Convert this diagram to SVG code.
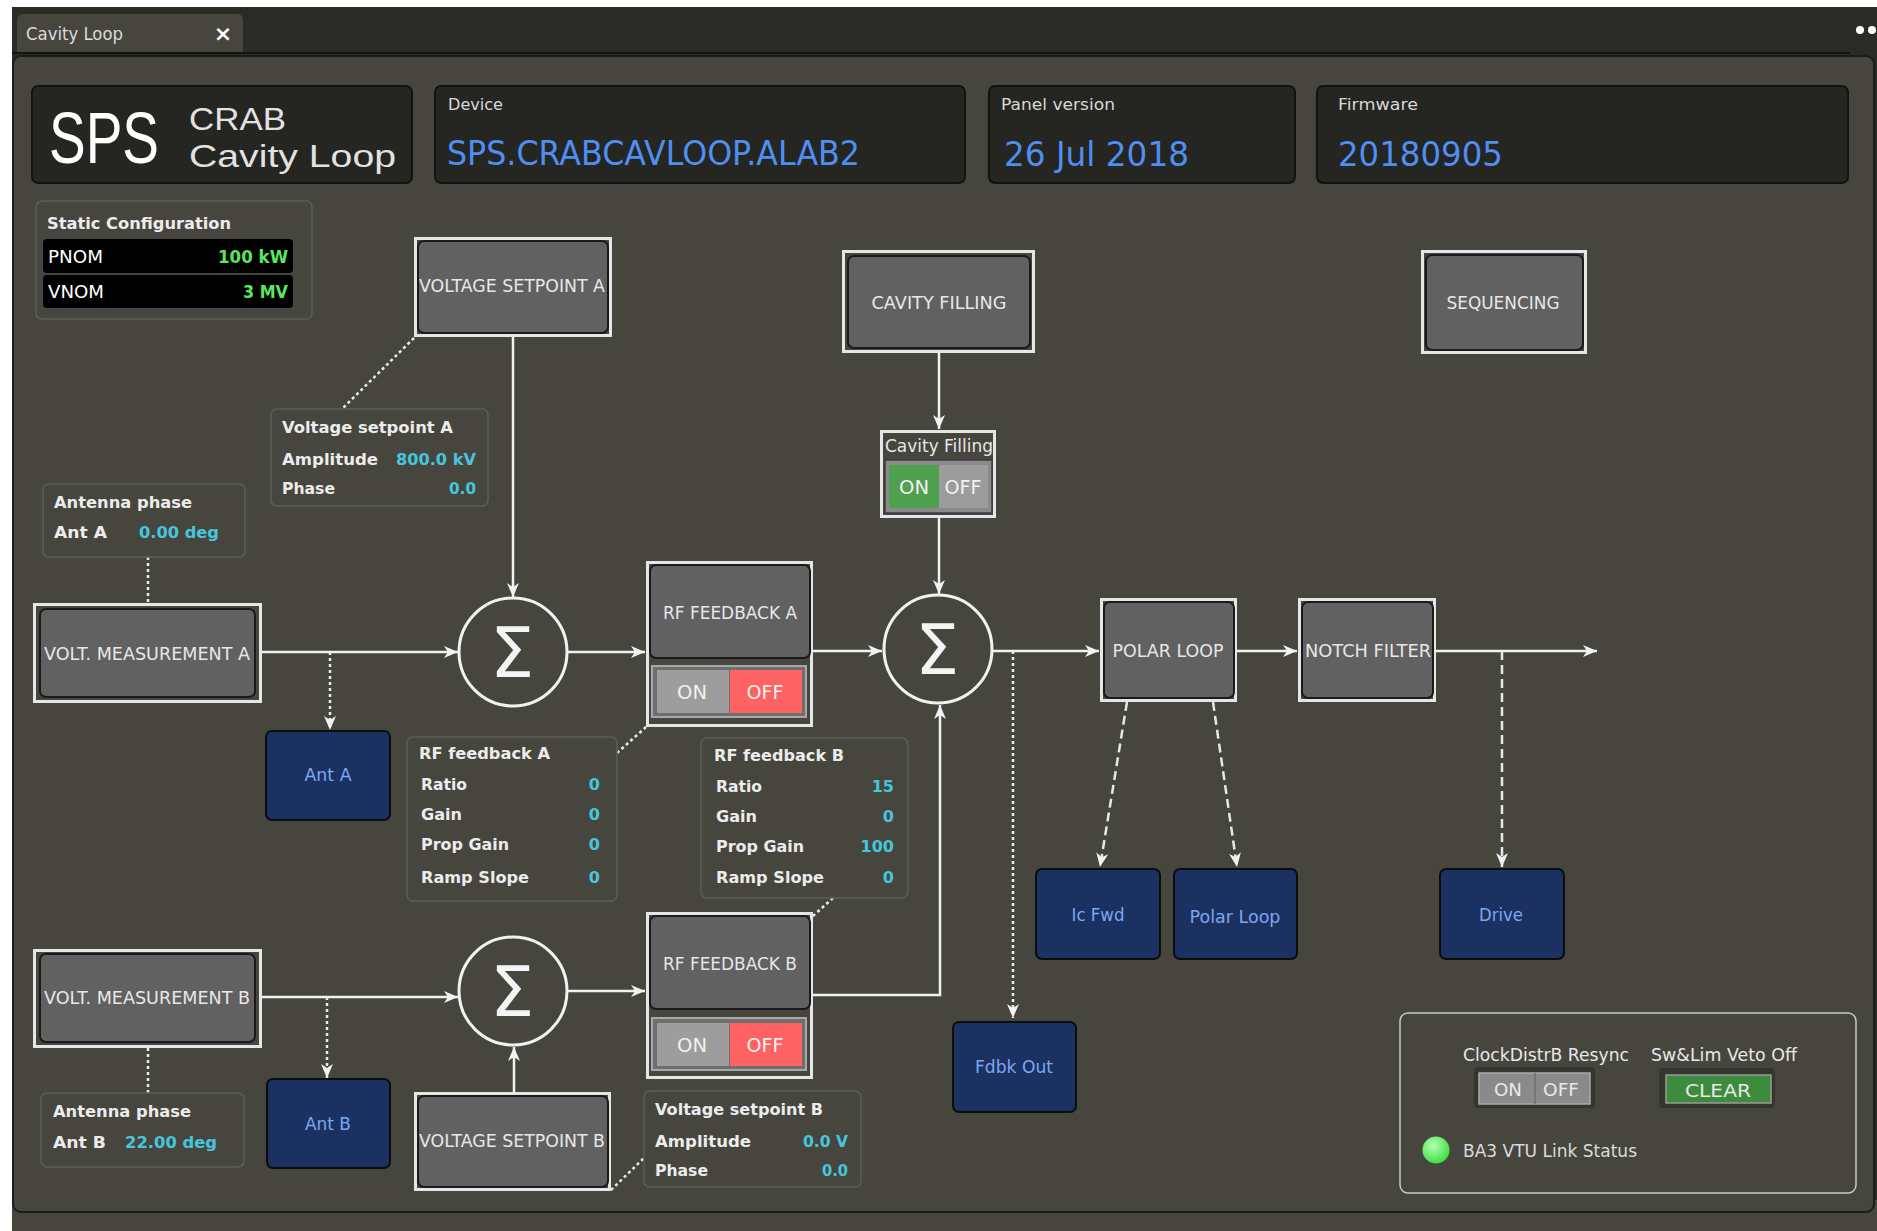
<svg xmlns="http://www.w3.org/2000/svg" width="1877" height="1231" viewBox="0 0 1877 1231">
<defs>
<style>
.t{font-family:'DejaVu Sans','Liberation Sans',sans-serif}
.hdr{fill:#252521;stroke:#121210;stroke-width:2}
.hl{font-family:'DejaVu Sans',sans-serif;font-size:15px;fill:#d8d8d8}
.hv{font-family:'DejaVu Sans',sans-serif;font-size:33px;fill:#4f8ef2}
.no{fill:none;stroke:#e6e6e6;stroke-width:3}
.ni{fill:#616161;stroke:#1a1a1a;stroke-width:2}
.nl{font-family:'DejaVu Sans',sans-serif;font-size:17px;fill:#e8e8e8;text-anchor:middle}
.bl{fill:#1a3162;stroke:#0c0c0c;stroke-width:2}
.blt{font-family:'DejaVu Sans',sans-serif;font-size:17px;fill:#7ea7ef;text-anchor:middle}
.ib{fill:none;stroke:#5e5e58;stroke-width:1.5}
.it{font-family:'DejaVu Sans',sans-serif;font-size:16px;font-weight:bold;fill:#ececec}
.iv{font-family:'DejaVu Sans',sans-serif;font-size:16px;font-weight:bold;fill:#46c6de;text-anchor:end}
.sum{fill:none;stroke:#f2f2f2;stroke-width:3}
.sg{font-family:'DejaVu Sans',sans-serif;font-size:70px;fill:#f4f4f4;text-anchor:middle}
.tg{font-family:'DejaVu Sans',sans-serif;font-size:20px;fill:#f2f2f2;text-anchor:middle}
.c{stroke:#f2f2f2;stroke-width:2.5;fill:none}
.d{stroke:#ececec;stroke-width:2.5;fill:none;stroke-dasharray:3 3}
.dl{stroke:#e8e8e8;stroke-width:2.5;fill:none;stroke-dasharray:9 5}
</style>
<marker id="arr" markerUnits="userSpaceOnUse" markerWidth="16" markerHeight="14" refX="15" refY="7" orient="auto">
<path d="M1,1 L15,7 L1,13 L5,7 Z" fill="#f2f2f2"/>
</marker>
<radialGradient id="led" cx="0.4" cy="0.35" r="0.65">
<stop offset="0" stop-color="#b4ffb4"/><stop offset="1" stop-color="#3fe03f"/>
</radialGradient>
</defs>

<!-- window background -->
<rect x="0" y="0" width="1877" height="1231" fill="#ffffff"/>
<rect x="12" y="7" width="1865" height="1224" fill="#2a2a26"/>
<path d="M17,53 L17,20 Q17,14 23,14 L237,14 Q243,14 243,20 L243,53 Z" fill="#46463f"/>
<text x="26" y="40" class="t" font-size="17" fill="#dcdcdc" textLength="97" lengthAdjust="spacingAndGlyphs">Cavity Loop</text>
<text x="223" y="41" class="t" font-size="22" font-weight="bold" fill="#ffffff" text-anchor="middle">×</text>
<line x1="12" y1="53" x2="1850" y2="53" stroke="#141412" stroke-width="2"/>
<circle cx="1860" cy="30" r="4" fill="#ffffff"/>
<circle cx="1872" cy="30" r="4" fill="#ffffff"/>
<rect x="12" y="1200" width="1865" height="31" fill="#46463f"/>
<rect x="13" y="56" width="1861" height="1156" rx="8" fill="#46463f" stroke="#1c1c1a" stroke-width="2"/>

<!-- header -->
<g id="header-sps">
<rect x="32" y="86" width="380" height="97" rx="6" class="hdr"/>
<text x="49" y="163" font-family="'Liberation Sans',sans-serif" font-size="72" fill="#ffffff" textLength="110" lengthAdjust="spacingAndGlyphs">SPS</text>
<text x="189" y="130" font-family="'Liberation Sans',sans-serif" font-size="32" fill="#e2e2e2" textLength="97" lengthAdjust="spacingAndGlyphs">CRAB</text>
<text x="189" y="167" font-family="'Liberation Sans',sans-serif" font-size="32" fill="#e2e2e2" textLength="207" lengthAdjust="spacingAndGlyphs">Cavity Loop</text>
</g>
<g id="header-device">
<rect x="435" y="86" width="530" height="97" rx="6" class="hdr"/>
<text x="448" y="110" class="hl" textLength="55" lengthAdjust="spacingAndGlyphs">Device</text>
<text x="447" y="165" class="hv" textLength="413" lengthAdjust="spacingAndGlyphs">SPS.CRABCAVLOOP.ALAB2</text>
</g>
<g id="header-version">
<rect x="989" y="86" width="306" height="97" rx="6" class="hdr"/>
<text x="1001" y="110" class="hl" textLength="114" lengthAdjust="spacingAndGlyphs">Panel version</text>
<text x="1004" y="166" class="hv" textLength="185" lengthAdjust="spacingAndGlyphs">26 Jul 2018</text>
</g>
<g id="header-firmware">
<rect x="1317" y="86" width="531" height="97" rx="6" class="hdr"/>
<text x="1338" y="110" class="hl" textLength="80" lengthAdjust="spacingAndGlyphs">Firmware</text>
<text x="1338" y="166" class="hv" textLength="165" lengthAdjust="spacingAndGlyphs">20180905</text>
</g>

<!-- static configuration -->
<g id="static-config">
<rect x="36" y="201" width="276" height="118" rx="6" class="ib"/>
<text x="47" y="229" class="it" font-size="17" textLength="184" lengthAdjust="spacingAndGlyphs">Static Configuration</text>
<rect x="43" y="239" width="250" height="34" rx="4" fill="#000000"/>
<text x="48" y="263" class="t" font-size="17" fill="#ffffff" textLength="55" lengthAdjust="spacingAndGlyphs">PNOM</text>
<text x="288" y="263" class="t" font-size="17" font-weight="bold" fill="#5ce65c" text-anchor="end" textLength="70" lengthAdjust="spacingAndGlyphs">100 kW</text>
<rect x="43" y="275" width="250" height="33" rx="4" fill="#000000"/>
<text x="48" y="298" class="t" font-size="17" fill="#ffffff" textLength="56" lengthAdjust="spacingAndGlyphs">VNOM</text>
<text x="288" y="298" class="t" font-size="17" font-weight="bold" fill="#5ce65c" text-anchor="end" textLength="45" lengthAdjust="spacingAndGlyphs">3 MV</text>
</g>

<!-- connectors -->
<g id="connectors">
<line x1="513" y1="337" x2="513" y2="597" class="c" marker-end="url(#arr)"/>
<line x1="262" y1="652" x2="458" y2="652" class="c" marker-end="url(#arr)"/>
<line x1="330" y1="652" x2="330" y2="730" class="d" marker-end="url(#arr)"/>
<line x1="567" y1="652" x2="645" y2="652" class="c" marker-end="url(#arr)"/>
<line x1="813" y1="651" x2="882" y2="651" class="c" marker-end="url(#arr)"/>
<line x1="939" y1="353" x2="939" y2="429" class="c" marker-end="url(#arr)"/>
<line x1="939" y1="518" x2="939" y2="594" class="c" marker-end="url(#arr)"/>
<line x1="993" y1="651" x2="1099" y2="651" class="c" marker-end="url(#arr)"/>
<line x1="1013" y1="651" x2="1013" y2="1018" class="d" marker-end="url(#arr)"/>
<line x1="1237" y1="651" x2="1297" y2="651" class="c" marker-end="url(#arr)"/>
<line x1="1436" y1="651" x2="1597" y2="651" class="c" marker-end="url(#arr)"/>
<line x1="1502" y1="651" x2="1502" y2="867" class="dl" marker-end="url(#arr)"/>
<line x1="1127" y1="702" x2="1100" y2="867" class="dl" marker-end="url(#arr)"/>
<line x1="1213" y1="702" x2="1237" y2="867" class="dl" marker-end="url(#arr)"/>
<line x1="262" y1="997" x2="458" y2="997" class="c" marker-end="url(#arr)"/>
<line x1="327" y1="997" x2="327" y2="1078" class="d" marker-end="url(#arr)"/>
<line x1="567" y1="991" x2="645" y2="991" class="c" marker-end="url(#arr)"/>
<line x1="514" y1="1092" x2="514" y2="1047" class="c" marker-end="url(#arr)"/>
<polyline points="813,995 940,995 940,705" class="c" marker-end="url(#arr)"/>
<line x1="148" y1="557" x2="148" y2="603" class="d"/>
<line x1="148" y1="1048" x2="148" y2="1093" class="d"/>
<line x1="414" y1="338" x2="343" y2="408" class="d"/>
<line x1="617" y1="753" x2="646" y2="727" class="d"/>
<line x1="833" y1="898" x2="813" y2="916" class="d"/>
<line x1="611" y1="1190" x2="644" y2="1158" class="d"/>
</g>

<!-- nodes -->
<g id="node-vsa">
<rect x="415.5" y="238.5" width="195" height="97" class="no"/>
<rect x="418" y="241" width="190" height="92" rx="6" class="ni"/>
<text x="512" y="292" class="nl" font-size="16.5" textLength="186" lengthAdjust="spacingAndGlyphs">VOLTAGE SETPOINT A</text>
</g>
<g id="info-vsa">
<rect x="271" y="409" width="217" height="97" rx="6" class="ib"/>
<text x="282" y="433" class="it" textLength="171" lengthAdjust="spacingAndGlyphs">Voltage setpoint A</text>
<text x="282" y="465" class="it" textLength="96" lengthAdjust="spacingAndGlyphs">Amplitude</text>
<text x="476" y="465" class="iv" textLength="80" lengthAdjust="spacingAndGlyphs">800.0 kV</text>
<text x="282" y="494" class="it" textLength="53" lengthAdjust="spacingAndGlyphs">Phase</text>
<text x="476" y="494" class="iv" textLength="27" lengthAdjust="spacingAndGlyphs">0.0</text>
</g>
<g id="info-antA">
<rect x="43" y="484" width="202" height="73" rx="6" class="ib"/>
<text x="54" y="508" class="it" textLength="138" lengthAdjust="spacingAndGlyphs">Antenna phase</text>
<text x="54" y="538" class="it" textLength="53" lengthAdjust="spacingAndGlyphs">Ant A</text>
<text x="139" y="538" class="iv" style="text-anchor:start" textLength="80" lengthAdjust="spacingAndGlyphs">0.00 deg</text>
</g>
<g id="node-vma">
<rect x="34.5" y="604.5" width="226" height="97" class="no"/>
<rect x="40" y="609" width="215" height="88" rx="6" class="ni"/>
<text x="147" y="660" class="nl" textLength="206" lengthAdjust="spacingAndGlyphs">VOLT. MEASUREMENT A</text>
</g>
<g id="sum1">
<circle cx="513" cy="652" r="54" class="sum"/>
<text x="512" y="677" class="sg">Σ</text>
</g>
<g id="antA">
<rect x="266" y="731" width="124" height="89" rx="6" class="bl"/>
<text x="328" y="781" class="blt" textLength="47" lengthAdjust="spacingAndGlyphs">Ant A</text>
</g>
<g id="info-rfa">
<rect x="407" y="737" width="210" height="164" rx="6" class="ib"/>
<text x="419" y="759" class="it" textLength="131" lengthAdjust="spacingAndGlyphs">RF feedback A</text>
<text x="421" y="790" class="it" textLength="46" lengthAdjust="spacingAndGlyphs">Ratio</text>
<text x="421" y="820" class="it" textLength="41" lengthAdjust="spacingAndGlyphs">Gain</text>
<text x="421" y="850" class="it" textLength="88" lengthAdjust="spacingAndGlyphs">Prop Gain</text>
<text x="421" y="883" class="it" textLength="108" lengthAdjust="spacingAndGlyphs">Ramp Slope</text>
<text x="600" y="790" class="iv">0</text>
<text x="600" y="820" class="iv">0</text>
<text x="600" y="850" class="iv">0</text>
<text x="600" y="883" class="iv">0</text>
</g>
<g id="node-rfa">
<rect x="647.5" y="562.5" width="164" height="163" class="no"/>
<rect x="650" y="565" width="160" height="93" rx="6" class="ni"/>
<text x="730" y="619" class="nl" textLength="134" lengthAdjust="spacingAndGlyphs">RF FEEDBACK A</text>
<rect x="652" y="666" width="154" height="51" fill="#6e6e6e" stroke="#a8a8a8" stroke-width="2"/>
<rect x="657" y="670" width="72" height="43" fill="#9d9d9d"/>
<rect x="730" y="670" width="72" height="43" fill="#ff6262"/>
<text x="692" y="699" class="tg" textLength="30" lengthAdjust="spacingAndGlyphs">ON</text>
<text x="765" y="699" class="tg" fill="#ffffff" textLength="37" lengthAdjust="spacingAndGlyphs">OFF</text>
</g>
<g id="info-rfb">
<rect x="701" y="738" width="207" height="160" rx="6" class="ib"/>
<text x="714" y="761" class="it" textLength="130" lengthAdjust="spacingAndGlyphs">RF feedback B</text>
<text x="716" y="792" class="it" textLength="46" lengthAdjust="spacingAndGlyphs">Ratio</text>
<text x="716" y="822" class="it" textLength="41" lengthAdjust="spacingAndGlyphs">Gain</text>
<text x="716" y="852" class="it" textLength="88" lengthAdjust="spacingAndGlyphs">Prop Gain</text>
<text x="716" y="883" class="it" textLength="108" lengthAdjust="spacingAndGlyphs">Ramp Slope</text>
<text x="894" y="792" class="iv">15</text>
<text x="894" y="822" class="iv">0</text>
<text x="894" y="852" class="iv">100</text>
<text x="894" y="883" class="iv">0</text>
</g>
<g id="node-rfb">
<rect x="647.5" y="913.5" width="164" height="164" class="no"/>
<rect x="650" y="916" width="160" height="93" rx="6" class="ni"/>
<text x="730" y="970" class="nl" textLength="134" lengthAdjust="spacingAndGlyphs">RF FEEDBACK B</text>
<rect x="652" y="1018" width="154" height="52" fill="#6e6e6e" stroke="#a8a8a8" stroke-width="2"/>
<rect x="657" y="1023" width="72" height="43" fill="#9d9d9d"/>
<rect x="730" y="1023" width="72" height="43" fill="#ff6262"/>
<text x="692" y="1052" class="tg" textLength="30" lengthAdjust="spacingAndGlyphs">ON</text>
<text x="765" y="1052" class="tg" fill="#ffffff" textLength="37" lengthAdjust="spacingAndGlyphs">OFF</text>
</g>
<g id="node-vmb">
<rect x="34.5" y="950.5" width="226" height="96" class="no"/>
<rect x="40" y="954" width="215" height="88" rx="6" class="ni"/>
<text x="147" y="1004" class="nl" textLength="206" lengthAdjust="spacingAndGlyphs">VOLT. MEASUREMENT B</text>
</g>
<g id="sum3">
<circle cx="513" cy="991" r="54" class="sum"/>
<text x="512" y="1016" class="sg">Σ</text>
</g>
<g id="antB">
<rect x="267" y="1079" width="123" height="89" rx="6" class="bl"/>
<text x="328" y="1130" class="blt" textLength="46" lengthAdjust="spacingAndGlyphs">Ant B</text>
</g>
<g id="info-antB">
<rect x="41" y="1093" width="203" height="74" rx="6" class="ib"/>
<text x="53" y="1117" class="it" textLength="138" lengthAdjust="spacingAndGlyphs">Antenna phase</text>
<text x="53" y="1148" class="it" textLength="53" lengthAdjust="spacingAndGlyphs">Ant B</text>
<text x="125" y="1148" class="iv" style="text-anchor:start" textLength="92" lengthAdjust="spacingAndGlyphs">22.00 deg</text>
</g>
<g id="node-vsb">
<rect x="415.5" y="1093.5" width="194" height="96" class="no"/>
<rect x="418" y="1096" width="190" height="91" rx="6" class="ni"/>
<text x="512" y="1147" class="nl" font-size="16.5" textLength="186" lengthAdjust="spacingAndGlyphs">VOLTAGE SETPOINT B</text>
</g>
<g id="info-vsb">
<rect x="644" y="1091" width="217" height="96" rx="6" class="ib"/>
<text x="655" y="1115" class="it" textLength="168" lengthAdjust="spacingAndGlyphs">Voltage setpoint B</text>
<text x="655" y="1147" class="it" textLength="96" lengthAdjust="spacingAndGlyphs">Amplitude</text>
<text x="848" y="1147" class="iv" textLength="45" lengthAdjust="spacingAndGlyphs">0.0 V</text>
<text x="655" y="1176" class="it" textLength="53" lengthAdjust="spacingAndGlyphs">Phase</text>
<text x="848" y="1176" class="iv" textLength="26" lengthAdjust="spacingAndGlyphs">0.0</text>
</g>
<g id="node-cavfill">
<rect x="843.5" y="251.5" width="190" height="100" class="no"/>
<rect x="848" y="256" width="182" height="92" rx="6" class="ni"/>
<text x="939" y="309" class="nl" textLength="135" lengthAdjust="spacingAndGlyphs">CAVITY FILLING</text>
</g>
<g id="cavfill-toggle">
<rect x="881.5" y="431.5" width="113" height="85" class="no"/>
<text x="939" y="452" class="nl" font-size="16" fill="#dddddd" textLength="108" lengthAdjust="spacingAndGlyphs">Cavity Filling</text>
<rect x="885" y="460" width="107" height="53" fill="#8a8a8a" stroke="#3c3c3c" stroke-width="1.5"/>
<rect x="889" y="465" width="50" height="43" fill="#4fa04f"/>
<rect x="939" y="465" width="49" height="43" fill="#9c9c9c"/>
<text x="914" y="494" class="tg" textLength="30" lengthAdjust="spacingAndGlyphs">ON</text>
<text x="963" y="494" class="tg" textLength="37" lengthAdjust="spacingAndGlyphs">OFF</text>
</g>
<g id="sum2">
<circle cx="938" cy="649" r="54" class="sum"/>
<text x="937" y="674" class="sg">Σ</text>
</g>
<g id="node-polar">
<rect x="1101.5" y="599.5" width="134" height="101" class="no"/>
<rect x="1104" y="602" width="130" height="96" rx="6" class="ni"/>
<text x="1168" y="657" class="nl" textLength="111" lengthAdjust="spacingAndGlyphs">POLAR LOOP</text>
</g>
<g id="node-notch">
<rect x="1299.5" y="599.5" width="135" height="101" class="no"/>
<rect x="1302" y="602" width="131" height="96" rx="6" class="ni"/>
<text x="1368" y="657" class="nl" textLength="126" lengthAdjust="spacingAndGlyphs">NOTCH FILTER</text>
</g>
<g id="node-seq">
<rect x="1422.5" y="251.5" width="163" height="101" class="no"/>
<rect x="1426" y="255" width="157" height="95" rx="6" class="ni"/>
<text x="1503" y="309" class="nl" textLength="113" lengthAdjust="spacingAndGlyphs">SEQUENCING</text>
</g>
<g id="icfwd">
<rect x="1036" y="869" width="124" height="90" rx="6" class="bl"/>
<text x="1098" y="921" class="blt" textLength="53" lengthAdjust="spacingAndGlyphs">Ic Fwd</text>
</g>
<g id="polarloop-out">
<rect x="1174" y="869" width="123" height="90" rx="6" class="bl"/>
<text x="1235" y="923" class="blt" textLength="91" lengthAdjust="spacingAndGlyphs">Polar Loop</text>
</g>
<g id="drive">
<rect x="1440" y="869" width="124" height="90" rx="6" class="bl"/>
<text x="1501" y="921" class="blt" textLength="44" lengthAdjust="spacingAndGlyphs">Drive</text>
</g>
<g id="fdbkout">
<rect x="953" y="1022" width="123" height="90" rx="6" class="bl"/>
<text x="1014" y="1073" class="blt" textLength="78" lengthAdjust="spacingAndGlyphs">Fdbk Out</text>
</g>
<g id="status-panel">
<rect x="1400" y="1013" width="456" height="180" rx="8" fill="none" stroke="#c8c8c8" stroke-width="1.5"/>
<text x="1546" y="1061" class="nl" fill="#dcdcdc" textLength="166" lengthAdjust="spacingAndGlyphs">ClockDistrB Resync</text>
<text x="1724" y="1061" class="nl" fill="#dcdcdc" textLength="146" lengthAdjust="spacingAndGlyphs">Sw&amp;Lim Veto Off</text>
<rect x="1474" y="1067" width="121" height="41" rx="4" fill="#353532"/>
<rect x="1479" y="1073" width="111" height="31" fill="#8a8a8a" stroke="#aaaaaa" stroke-width="1.5"/>
<line x1="1535" y1="1073" x2="1535" y2="1104" stroke="#6e6e6e" stroke-width="1.5"/>
<text x="1508" y="1096" class="nl" font-size="19" fill="#d4d4d4" textLength="28" lengthAdjust="spacingAndGlyphs">ON</text>
<text x="1561" y="1096" class="nl" font-size="19" fill="#d4d4d4" textLength="36" lengthAdjust="spacingAndGlyphs">OFF</text>
<rect x="1659" y="1068" width="116" height="40" rx="4" fill="#353532"/>
<rect x="1666" y="1075" width="105" height="28" fill="#3d8b3d" stroke="#9a9a9a" stroke-width="1.5"/>
<text x="1718" y="1097" class="nl" font-size="19" fill="#d8f0d8" textLength="66" lengthAdjust="spacingAndGlyphs">CLEAR</text>
<circle cx="1436" cy="1150" r="13.5" fill="url(#led)"/>
<text x="1463" y="1157" class="t" font-size="17" fill="#dcdcdc" textLength="174" lengthAdjust="spacingAndGlyphs">BA3 VTU Link Status</text>
</g>
</svg>
